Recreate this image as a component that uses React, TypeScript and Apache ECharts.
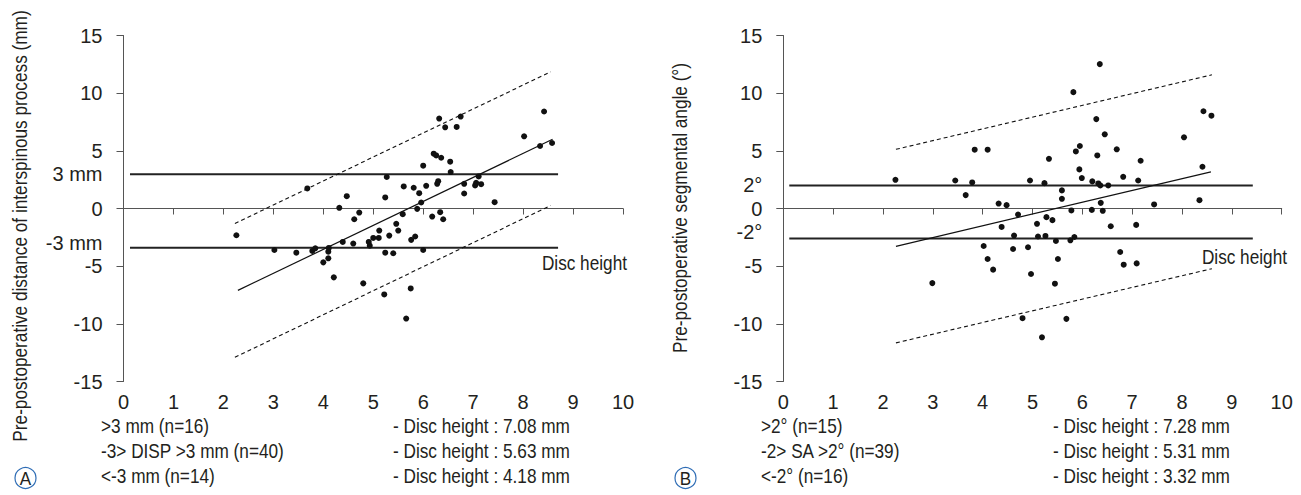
import React, { useEffect, useRef } from "react";
import * as echarts from "echarts";

// ---------- data ----------
const xTicks = [0, 1, 2, 3, 4, 5, 6, 7, 8, 9, 10];
const yTicks = [-15, -10, -5, 0, 5, 10, 15];

// Panel A
const scatterA: number[][] = [
  [2.26, -2.32], [3.68, 1.74], [4.32, 0.06], [4.47, 1.07], [4.72, -0.35], [4.62, -0.93],
  [3.02, -3.6], [3.46, -3.83], [3.78, -3.68], [3.84, -3.45], [4.1, -3.74], [4.11, -3.42],
  [4.39, -2.9], [4.6, -3.04], [4.91, -2.9], [4.93, -3.22], [5.0, -2.55], [5.11, -2.55],
  [5.12, -1.91], [5.24, -3.83], [5.4, -3.88], [5.32, -2.35], [5.5, -1.91], [5.46, -1.33],
  [5.59, -0.49], [5.76, -2.72], [5.84, -2.43], [6.0, -3.6], [5.88, -0.03], [5.96, 0.52],
  [6.18, -0.7], [6.34, -0.32], [6.4, -0.93], [5.24, 0.96], [5.27, 2.73], [5.61, 1.91],
  [5.81, 1.8], [5.92, 1.33], [6.06, 1.97], [6.0, 3.71], [6.28, 2.14], [6.3, 2.37],
  [6.21, 4.75], [6.26, 4.6], [6.36, 4.4], [6.54, 4.06], [6.55, 3.16], [6.32, 7.8],
  [6.44, 7.04], [6.67, 7.07], [6.75, 7.97], [6.82, 2.14], [6.82, 1.3], [7.04, 2.0],
  [7.06, 2.23], [7.11, 2.78], [7.16, 2.11], [7.43, 0.55], [8.02, 6.26], [8.34, 5.42],
  [8.58, 5.68], [8.42, 8.41], [4.0, -4.67], [4.1, -4.32], [4.21, -5.97], [4.8, -6.49],
  [5.22, -7.45], [5.75, -6.93], [5.66, -9.54],
];
const fitA = [[2.29, -7.1], [8.59, 6.0]];
const upperA = [[2.23, -1.3], [8.55, 11.85]];
const lowerA = [[2.23, -12.9], [8.55, 0.26]];
const threshHighA = [[0.13, 2.96], [8.7, 2.96]];
const threshLowA = [[0.13, -3.4], [8.7, -3.4]];
const yLabelValuesA = [-15, -10, -5, -3, 0, 3, 5, 10, 15];
const yLabelNamesA: Record<string, string> = { "3": "3 mm", "-3": "-3 mm" };
const groupsA = [">3 mm (n=16)", "-3> DISP >3 mm (n=40)", "<-3 mm (n=14)"];
const heightsA = ["- Disc height : 7.08 mm", "- Disc height : 5.63 mm", "- Disc height : 4.18 mm"];
const titleA = "Pre-postoperative distance of interspinous process (mm)";

// Panel B
const scatterB: number[][] = [
  [2.25, 2.49], [3.45, 2.43], [3.79, 2.26], [3.66, 1.16], [3.84, 5.1], [4.1, 5.1],
  [4.32, 0.43], [4.48, 0.29], [4.71, -0.52], [4.38, -1.6], [4.95, 2.43], [5.24, 2.2],
  [5.33, 4.31], [5.59, 1.57], [5.59, 0.84], [5.28, -0.75], [5.4, -1.01], [5.09, -1.33],
  [5.78, -0.17], [5.82, 10.09], [5.87, 4.95], [5.95, 5.42], [5.94, 3.39], [5.99, 2.64],
  [6.2, 2.35], [6.32, 2.17], [6.36, 2.0], [6.52, 2.0], [6.28, 7.75], [6.35, 12.52],
  [6.45, 6.43], [6.3, 4.6], [6.19, -0.12], [6.37, 0.49], [6.41, -0.2], [6.69, 5.13],
  [6.82, 2.75], [7.12, 2.43], [7.17, 4.14], [7.44, 0.35], [6.57, -1.54], [7.08, -1.42],
  [8.04, 6.17], [8.43, 8.43], [8.59, 8.05], [8.41, 3.62], [8.35, 0.72], [4.63, -2.35],
  [5.11, -2.43], [5.26, -2.38], [5.47, -2.82], [5.76, -2.76], [5.84, -2.47], [4.02, -3.25],
  [4.61, -3.51], [4.91, -3.36], [4.1, -4.38], [5.51, -4.38], [6.76, -3.77], [4.21, -5.3],
  [4.97, -5.68], [5.45, -6.52], [6.83, -4.87], [7.09, -4.76], [2.99, -6.47], [4.8, -9.51],
  [5.68, -9.57], [5.19, -11.17],
];
const fitB = [[2.26, -3.28], [8.58, 3.18]];
const upperB = [[2.26, 5.13], [8.6, 11.59]];
const lowerB = [[2.26, -11.65], [8.6, -5.22]];
const threshHighB = [[0.12, 2.0], [9.42, 2.0]];
const threshLowB = [[0.12, -2.6], [9.42, -2.6]];
const yLabelValuesB = [-15, -10, -5, -2, 0, 2, 5, 10, 15];
const yLabelNamesB: Record<string, string> = { "2": "2°", "-2": "-2°" };
const groupsB = [">2° (n=15)", "-2> SA >2° (n=39)", "<-2° (n=16)"];
const heightsB = ["- Disc height : 7.28 mm", "- Disc height : 5.31 mm", "- Disc height : 3.32 mm"];
const titleB = "Pre-postoperative segmental angle (°)";

const xAxisName = "Disc height";

// ---------- styles ----------
const FONT = "'Liberation Sans', Arial, sans-serif";
const FS = 21;
const AXFS = 20;
const NARROW = 0.82;
const TXT = "#231f20";
const AX = "#555";

export default function App() {
  const ref = useRef<HTMLDivElement>(null);

  useEffect(() => {
    if (!ref.current) return;
    const chart = echarts.init(ref.current, null, { renderer: "svg" });

    const mkX = (gi: number) => ({
      type: "value",
      gridIndex: gi,
      min: 0,
      max: 10,
      interval: 1,
      axisLine: { show: true, onZero: true, lineStyle: { color: AX, width: 1 } },
      axisTick: { show: true, inside: false, length: 6, lineStyle: { color: AX } },
      axisLabel: { margin: 10, fontSize: AXFS, fontFamily: FONT, color: TXT, customValues: xTicks },
      splitLine: { show: false },
    });
    const mkY = (gi: number, vals: number[], names: Record<string, string>) => ({
      type: "value",
      gridIndex: gi,
      min: -15,
      max: 15,
      interval: 5,
      axisLine: { show: true, onZero: true, lineStyle: { color: AX, width: 1 } },
      axisTick: { show: true, inside: false, length: 7, lineStyle: { color: AX }, customValues: yTicks },
      axisLabel: {
        margin: 21,
        fontSize: AXFS,
        fontFamily: FONT,
        color: TXT,
        customValues: vals,
        formatter: (v: number) => names[String(v)] ?? String(v),
      },
      splitLine: { show: false },
    });

    const lineSeries = (gi: number, data: number[][], width: number, type: any, color = "#111") => ({
      type: "line",
      xAxisIndex: gi,
      yAxisIndex: gi,
      data,
      showSymbol: false,
      symbol: "none",
      silent: true,
      lineStyle: { color, width, type },
      z: 3,
    });
    const scatter = (gi: number, data: number[][]) => ({
      type: "scatter",
      xAxisIndex: gi,
      yAxisIndex: gi,
      data,
      symbolSize: 6,
      itemStyle: { color: "#111", opacity: 1 },
      z: 5,
    });

    const text = (x: number, y: number, t: string, extra: any = {}) => ({
      type: "text",
      x,
      y,
      scaleX: NARROW,
      ...extra,
      style: {
        text: t,
        fontSize: FS,
        fontFamily: FONT,
        fill: TXT,
        align: "left",
        verticalAlign: "middle",
        ...(extra.style || {}),
      },
    });

    const rows = [426, 451, 476];
    const graphic: any[] = [];
    const panels = [
      { off: 0, groups: groupsA, heights: heightsA, title: titleA, tx: 20, ty: 226, letter: "A", dx: 627, dy: 263 },
      { off: 660, groups: groupsB, heights: heightsB, title: titleB, tx: 680, ty: 208, letter: "B", dx: 1287, dy: 257 },
    ];
    panels.forEach((p) => {
      rows.forEach((ry, i) => {
        graphic.push(text(101 + p.off, ry, p.groups[i]));
        graphic.push(text(393 + p.off, ry, p.heights[i]));
      });
      graphic.push(
        text(p.tx, p.ty, p.title, { rotation: Math.PI / 2, style: { align: "center", verticalAlign: "middle" } })
      );
      graphic.push(text(p.dx, p.dy, xAxisName, { style: { align: "right" } }));
      graphic.push({
        type: "circle",
        shape: { cx: 25.5 + p.off, cy: 478, r: 10.5 },
        style: { fill: "none", stroke: "#2f6db5", lineWidth: 1.2 },
      });
      graphic.push(
        text(25.5 + p.off, 479, p.letter, {
          scaleX: 0.9,
          style: { align: "center", verticalAlign: "middle", fontSize: 19 },
        })
      );
    });

    chart.setOption({
      animation: false,
      backgroundColor: "#fff",
      grid: [
        { left: 123.5, top: 35.5, width: 499.5, height: 346 },
        { left: 783.3, top: 35.5, width: 498.4, height: 346 },
      ],
      xAxis: [mkX(0), mkX(1)],
      yAxis: [mkY(0, yLabelValuesA, yLabelNamesA), mkY(1, yLabelValuesB, yLabelNamesB)],
      series: [
        lineSeries(0, threshHighA, 2, "solid", "#222"),
        lineSeries(0, threshLowA, 2, "solid", "#222"),
        lineSeries(0, fitA, 1.2, "solid"),
        lineSeries(0, upperA, 1.1, [4, 3]),
        lineSeries(0, lowerA, 1.1, [4, 3]),
        scatter(0, scatterA),
        lineSeries(1, threshHighB, 2, "solid", "#222"),
        lineSeries(1, threshLowB, 2, "solid", "#222"),
        lineSeries(1, fitB, 1.2, "solid"),
        lineSeries(1, upperB, 1.1, [4, 3]),
        lineSeries(1, lowerB, 1.1, [4, 3]),
        scatter(1, scatterB),
      ],
      graphic,
    });

    return () => chart.dispose();
  }, []);

  return (
    <div
      ref={ref}
      style={{ position: "fixed", left: 0, top: 0, width: 1301, height: 495 }}
    />
  );
}
